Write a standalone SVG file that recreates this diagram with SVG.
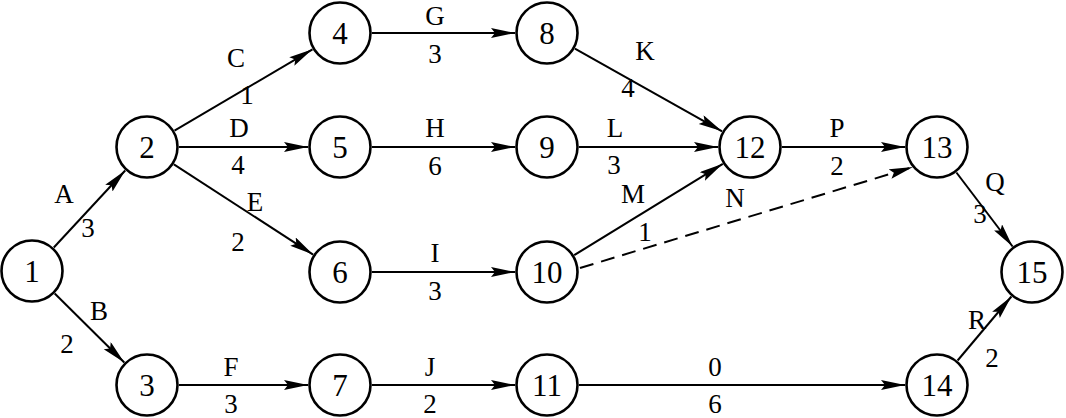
<svg xmlns="http://www.w3.org/2000/svg" width="1066" height="418" viewBox="0 0 1066 418">
<style>
.n circle{fill:#fff;stroke:#000;stroke-width:2.6}
.e line{stroke:#000;stroke-width:2;fill:none;marker-end:url(#ah)}
.e .d{stroke-dasharray:14 8}
</style>
<defs>
<marker id="ah" markerUnits="userSpaceOnUse" markerWidth="26" markerHeight="12" refX="24" refY="5" orient="auto">
<path d="M0,0 L24,5 L0,10 L4,5 z" fill="#000"/>
</marker>
</defs>
<rect width="1066" height="418" fill="#fff"/>
<g id="connectors" class="e">
<line x1="53.8" y1="247.5" x2="125.2" y2="170.5"/>
<line x1="54.7" y1="293.5" x2="124.3" y2="362.5"/>
<line x1="174.5" y1="130.7" x2="312.5" y2="49.3"/>
<line x1="179" y1="147" x2="308" y2="147"/>
<line x1="173.9" y1="164.4" x2="313.1" y2="254.6"/>
<line x1="179" y1="385" x2="308" y2="385"/>
<line x1="372" y1="33" x2="515" y2="33"/>
<line x1="372" y1="147" x2="515" y2="147"/>
<line x1="372" y1="272" x2="515" y2="272"/>
<line x1="372" y1="385" x2="515" y2="385"/>
<line x1="574.9" y1="48.7" x2="722.1" y2="131.3"/>
<line x1="579" y1="147" x2="718" y2="147"/>
<line x1="574.2" y1="255.2" x2="722.8" y2="163.8"/>
<line class="d" x1="580" y1="268" x2="913" y2="167"/>
<line x1="579" y1="385" x2="905" y2="385"/>
<line x1="782" y1="147" x2="905" y2="147"/>
<line x1="956.4" y1="172.5" x2="1012.6" y2="246.5"/>
<line x1="957.6" y1="360.5" x2="1011.4" y2="296.5"/>
</g>
<g id="labels" font-family="'Liberation Serif', 'Times New Roman', 'DejaVu Serif', serif" font-size="27" text-anchor="middle" fill="#000">
<text x="64" y="203">A</text><text x="88" y="237">3</text>
<text x="99" y="320">B</text><text x="67" y="353">2</text>
<text x="236" y="67">C</text><text x="247" y="104">1</text>
<text x="239" y="137">D</text><text x="238" y="174">4</text>
<text x="255" y="211">E</text><text x="238" y="251">2</text>
<text x="231" y="376">F</text><text x="231" y="413">3</text>
<text x="435" y="25">G</text><text x="435" y="63">3</text>
<text x="435" y="137">H</text><text x="435" y="175">6</text>
<text x="435" y="262">I</text><text x="435" y="300">3</text>
<text x="430" y="376">J</text><text x="430" y="413">2</text>
<text x="645" y="60">K</text><text x="628" y="97">4</text>
<text x="615" y="137">L</text><text x="614" y="174">3</text>
<text x="633" y="203">M</text><text x="645" y="241">1</text>
<text x="735" y="207">N</text>
<text x="715" y="376">0</text><text x="715" y="413">6</text>
<text x="837" y="137">P</text><text x="837" y="175">2</text>
<text x="995" y="191">Q</text><text x="980" y="223">3</text>
<text x="977" y="329">R</text><text x="992" y="367">2</text>
</g>
<g id="nodes" font-family="'Liberation Serif', 'Times New Roman', 'DejaVu Serif', serif" font-size="31" text-anchor="middle" fill="#000">
<g id="n1" class="n"><circle cx="32" cy="271" r="30.5"/><text x="32" y="282">1</text></g>
<g id="n2" class="n"><circle cx="147" cy="147" r="30.5"/><text x="147" y="158">2</text></g>
<g id="n3" class="n"><circle cx="147" cy="385" r="30.5"/><text x="147" y="396">3</text></g>
<g id="n4" class="n"><circle cx="340" cy="33" r="30.5"/><text x="340" y="44">4</text></g>
<g id="n5" class="n"><circle cx="340" cy="147" r="30.5"/><text x="340" y="158">5</text></g>
<g id="n6" class="n"><circle cx="340" cy="272" r="30.5"/><text x="340" y="283">6</text></g>
<g id="n7" class="n"><circle cx="340" cy="385" r="30.5"/><text x="340" y="396">7</text></g>
<g id="n8" class="n"><circle cx="547" cy="33" r="30.5"/><text x="547" y="44">8</text></g>
<g id="n9" class="n"><circle cx="547" cy="147" r="30.5"/><text x="547" y="158">9</text></g>
<g id="n10" class="n"><circle cx="547" cy="272" r="30.5"/><text x="547" y="283">10</text></g>
<g id="n11" class="n"><circle cx="547" cy="385" r="30.5"/><text x="547" y="396">11</text></g>
<g id="n12" class="n"><circle cx="750" cy="147" r="30.5"/><text x="750" y="158">12</text></g>
<g id="n13" class="n"><circle cx="937" cy="147" r="30.5"/><text x="937" y="158">13</text></g>
<g id="n14" class="n"><circle cx="937" cy="385" r="30.5"/><text x="937" y="396">14</text></g>
<g id="n15" class="n"><circle cx="1032" cy="272" r="30.5"/><text x="1032" y="283">15</text></g>
</g>
</svg>
